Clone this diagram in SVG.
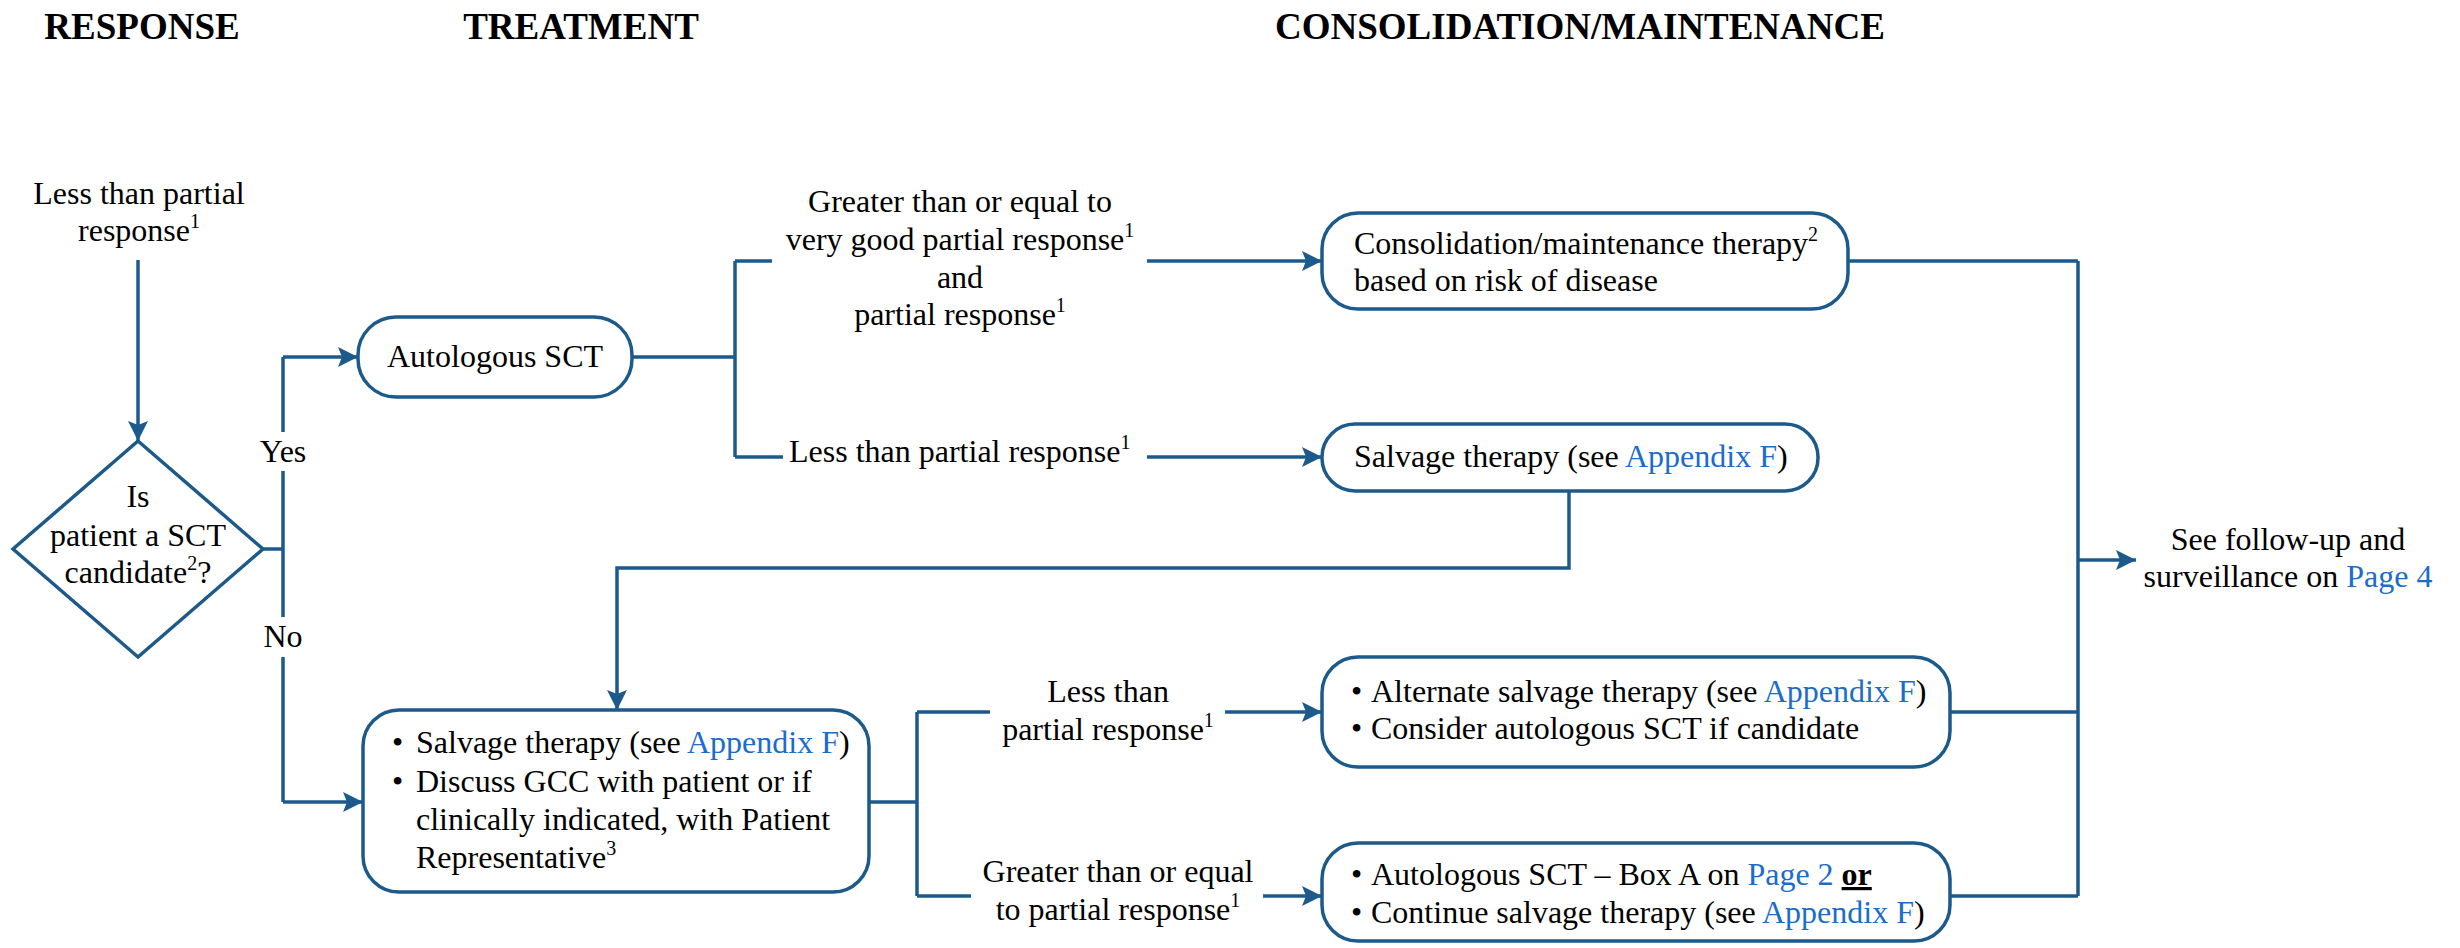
<svg xmlns="http://www.w3.org/2000/svg" width="2460" height="948" viewBox="0 0 2460 948">
<style>
text{font-family:"Liberation Serif","Times New Roman",serif;font-size:32px;fill:#000}
.hd{font-size:37px;font-weight:bold;text-anchor:middle}
.c{text-anchor:middle}
.lk{fill:#1c6ccb}
.sup{font-size:20px}
.box{fill:#fff;stroke:#1d5a8c;stroke-width:3.5}
.ln{fill:none;stroke:#1d5a8c;stroke-width:3.5}
.ar{marker-end:url(#ah)}
</style>
<defs>
<marker id="ah" markerUnits="userSpaceOnUse" markerWidth="22" markerHeight="22" refX="20" refY="10" orient="auto">
<path d="M0,0 L20,10 L0,20 L4,10 Z" fill="#1d5a8c"/>
</marker>
</defs>
<rect width="2460" height="948" fill="#fff"/>

<g id="headers">
<text class="hd" x="142" y="39">RESPONSE</text>
<text class="hd" x="581" y="39">TREATMENT</text>
<text class="hd" x="1580" y="39">CONSOLIDATION/MAINTENANCE</text>
</g>

<g id="connectors">
<path class="ln ar" d="M138,260 V441"/>
<path class="ln" d="M263,549 H283"/>
<path class="ln" d="M283,357 V432 M283,471 V617 M283,657 V802"/>
<path class="ln ar" d="M283,357 H358"/>
<path class="ln ar" d="M283,802 H363"/>
<path class="ln" d="M632,357 H735 M735,261 V457 M735,261 H772 M735,457 H783"/>
<path class="ln ar" d="M1147,261 H1322"/>
<path class="ln ar" d="M1147,457 H1322"/>
<path class="ln ar" d="M1569,491 V568 H617 V710"/>
<path class="ln" d="M869,802 H917 M917,712 V896 M917,712 H990 M917,896 H971"/>
<path class="ln ar" d="M1225,712 H1322"/>
<path class="ln ar" d="M1263,896 H1322"/>
<path class="ln" d="M1848,261 H2078 M1950,712 H2078 M1950,896 H2078 M2078,261 V896"/>
<path class="ln ar" d="M2078,560 H2136"/>
</g>

<g id="labels">
<text class="c" x="283" y="462">Yes</text>
<text class="c" x="283" y="647">No</text>
<text class="c" x="960" y="212">Greater than or equal to</text>
<text class="c" x="960" y="250">very good partial response<tspan class="sup" dy="-13">1</tspan></text>
<text class="c" x="960" y="288">and</text>
<text class="c" x="960" y="325">partial response<tspan class="sup" dy="-13">1</tspan></text>
<text x="789" y="462">Less than partial response<tspan class="sup" dy="-13">1</tspan></text>
<text class="c" x="1108" y="702">Less than</text>
<text class="c" x="1108" y="740">partial response<tspan class="sup" dy="-13">1</tspan></text>
<text class="c" x="1118" y="882">Greater than or equal</text>
<text class="c" x="1118" y="920">to partial response<tspan class="sup" dy="-13">1</tspan></text>
</g>

<g id="start">
<text class="c" x="139" y="204">Less than partial</text>
<text class="c" x="139" y="241">response<tspan class="sup" dy="-13">1</tspan></text>
</g>

<g id="decision">
<path class="box" d="M138,441 L263,549 L138,657 L13,549 Z"/>
<text class="c" x="138" y="507">Is</text>
<text class="c" x="138" y="546">patient a SCT</text>
<text class="c" x="138" y="583">candidate<tspan class="sup" dy="-13">2</tspan><tspan dy="13">?</tspan></text>
</g>

<g id="auto-sct">
<rect class="box" x="358" y="317" width="274" height="80" rx="38"/>
<text class="c" x="495" y="367">Autologous SCT</text>
</g>

<g id="consolidation">
<rect class="box" x="1322" y="213" width="526" height="96" rx="36"/>
<text x="1354" y="254">Consolidation/maintenance therapy<tspan class="sup" dy="-13">2</tspan></text>
<text x="1354" y="291">based on risk of disease</text>
</g>

<g id="salvage">
<rect class="box" x="1322" y="424" width="496" height="67" rx="33"/>
<text x="1354" y="467">Salvage therapy (see <tspan class="lk">Appendix F</tspan>)</text>
</g>

<g id="salvage-gcc">
<rect class="box" x="363" y="710" width="506" height="182" rx="36"/>
<text x="392" y="753">•</text>
<text x="416" y="753">Salvage therapy (see <tspan class="lk">Appendix F</tspan>)</text>
<text x="392" y="792">•</text>
<text x="416" y="792">Discuss GCC with patient or if</text>
<text x="416" y="830">clinically indicated, with Patient</text>
<text x="416" y="868">Representative<tspan class="sup" dy="-13">3</tspan></text>
</g>

<g id="alternate">
<rect class="box" x="1322" y="657" width="628" height="110" rx="36"/>
<text x="1351" y="702">•</text>
<text x="1371" y="702">Alternate salvage therapy (see <tspan class="lk">Appendix F</tspan>)</text>
<text x="1351" y="739">•</text>
<text x="1371" y="739">Consider autologous SCT if candidate</text>
</g>

<g id="auto-box-a">
<rect class="box" x="1322" y="843" width="628" height="98" rx="36"/>
<text x="1351" y="885">•</text>
<text x="1371" y="885">Autologous SCT – Box A on <tspan class="lk">Page 2</tspan> <tspan font-weight="bold" text-decoration="underline">or</tspan></text>
<text x="1351" y="923">•</text>
<text x="1371" y="923">Continue salvage therapy (see <tspan class="lk">Appendix F</tspan>)</text>
</g>

<g id="followup">
<text class="c" x="2288" y="550">See follow-up and</text>
<text class="c" x="2288" y="587">surveillance on <tspan class="lk">Page 4</tspan></text>
</g>
</svg>
